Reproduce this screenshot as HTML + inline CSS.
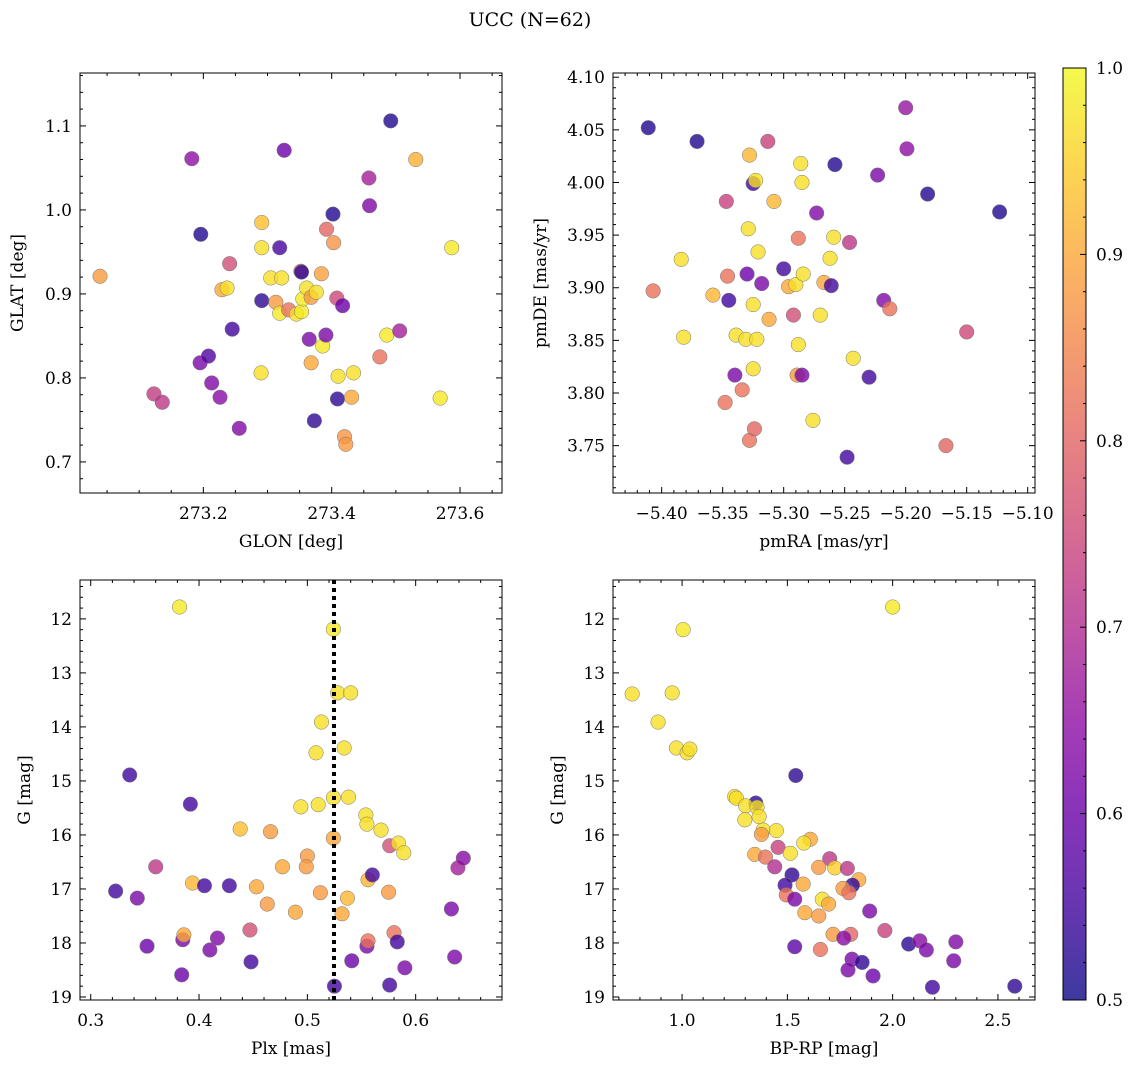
<!DOCTYPE html>
<html><head><meta charset="utf-8"><style>
body{margin:0;background:#fff;}
svg{display:block;font-family:"DejaVu Serif","Liberation Serif",serif;}
</style></head><body>
<svg id="c" width="1136" height="1068" xmlns="http://www.w3.org/2000/svg">
<defs>
<linearGradient id="cbg" x1="0" y1="1" x2="0" y2="0">
<stop offset="0" stop-color="#0d0887"/><stop offset="0.1" stop-color="#41049d"/><stop offset="0.2" stop-color="#6a00a8"/><stop offset="0.3" stop-color="#8f0da4"/><stop offset="0.4" stop-color="#b12a90"/><stop offset="0.5" stop-color="#cc4778"/><stop offset="0.6" stop-color="#e16462"/><stop offset="0.7" stop-color="#f2844b"/><stop offset="0.8" stop-color="#fca636"/><stop offset="0.9" stop-color="#fcce25"/><stop offset="1" stop-color="#f0f921"/>
</linearGradient>
</defs>
<text x="530" y="26" text-anchor="middle" font-size="19">UCC (N=62)</text>
</svg>
<script>
// Panel 1: GLON vs GLAT
const glon=[273.039,273.182,273.196,273.123,273.136,273.195,273.208,273.213,273.226,273.229,273.237,273.241,273.245,273.256,273.291,273.291,273.291,273.290,273.305,273.313,273.319,273.322,273.319,273.326,273.333,273.345,273.352,273.353,273.353,273.355,273.361,273.368,273.376,273.365,273.368,273.373,273.386,273.384,273.391,273.392,273.402,273.403,273.408,273.410,273.409,273.417,273.420,273.422,273.431,273.434,273.458,273.459,273.475,273.486,273.492,273.506,273.531,273.569,273.587];
const glat=[0.921,1.061,0.971,0.781,0.771,0.818,0.826,0.794,0.777,0.905,0.907,0.936,0.858,0.740,0.985,0.955,0.892,0.806,0.919,0.890,0.955,0.919,0.877,1.071,0.881,0.876,0.927,0.926,0.879,0.894,0.907,0.896,0.902,0.846,0.818,0.749,0.838,0.924,0.851,0.977,0.995,0.961,0.895,0.802,0.775,0.886,0.730,0.721,0.777,0.806,1.038,1.005,0.825,0.851,1.106,0.856,1.060,0.776,0.955];
const probA=[0.88,0.65,0.52,0.73,0.72,0.62,0.57,0.63,0.64,0.9,0.97,0.76,0.55,0.63,0.93,0.97,0.53,0.97,0.97,0.88,0.56,0.97,0.98,0.6,0.82,0.97,0.8,0.53,0.98,0.98,0.97,0.88,0.97,0.62,0.9,0.53,0.98,0.89,0.62,0.8,0.52,0.87,0.75,0.97,0.53,0.6,0.87,0.88,0.9,0.97,0.68,0.63,0.82,0.98,0.52,0.68,0.91,0.98,0.98];
// Panel 2: pmRA vs pmDE
const pmra=[-5.411,-5.407,-5.382,-5.371,-5.384,-5.358,-5.347,-5.346,-5.345,-5.348,-5.340,-5.339,-5.334,-5.331,-5.330,-5.328,-5.329,-5.328,-5.325,-5.325,-5.324,-5.325,-5.323,-5.322,-5.321,-5.318,-5.313,-5.312,-5.308,-5.300,-5.296,-5.292,-5.290,-5.289,-5.288,-5.288,-5.286,-5.285,-5.285,-5.284,-5.276,-5.273,-5.270,-5.267,-5.262,-5.261,-5.259,-5.258,-5.248,-5.246,-5.243,-5.230,-5.223,-5.218,-5.213,-5.200,-5.199,-5.182,-5.167,-5.150,-5.123];
const pmde=[4.052,3.897,3.853,4.039,3.927,3.893,3.982,3.911,3.888,3.791,3.817,3.855,3.803,3.851,3.913,4.026,3.956,3.755,3.884,3.823,3.766,3.999,4.002,3.851,3.934,3.904,4.039,3.870,3.982,3.918,3.901,3.874,3.903,3.817,3.947,3.846,4.018,3.817,4.000,3.913,3.774,3.971,3.874,3.905,3.928,3.902,3.948,4.017,3.739,3.943,3.833,3.815,4.007,3.888,3.880,4.071,4.032,3.989,3.750,3.858,3.972];
const probB=[0.52,0.82,0.97,0.52,0.97,0.92,0.74,0.82,0.55,0.82,0.62,0.97,0.82,0.97,0.6,0.92,0.97,0.82,0.97,0.97,0.8,0.55,0.97,0.97,0.97,0.62,0.74,0.9,0.92,0.55,0.9,0.76,0.97,0.88,0.82,0.97,0.97,0.62,0.97,0.97,0.97,0.63,0.97,0.9,0.97,0.55,0.97,0.52,0.55,0.72,0.97,0.55,0.62,0.63,0.82,0.66,0.65,0.52,0.8,0.75,0.52];
// Panel 3: Plx vs G
const plx=[0.323,0.336,0.343,0.352,0.360,0.382,0.384,0.385,0.386,0.392,0.394,0.405,0.410,0.417,0.428,0.438,0.447,0.448,0.453,0.463,0.466,0.477,0.489,0.494,0.500,0.499,0.508,0.510,0.512,0.513,0.524,0.524,0.524,0.525,0.528,0.532,0.534,0.537,0.538,0.540,0.541,0.554,0.555,0.556,0.555,0.556,0.560,0.568,0.575,0.576,0.580,0.583,0.576,0.584,0.589,0.590,0.633,0.636,0.639,0.644];
const gmagC=[17.04,14.89,17.17,18.06,16.59,11.78,18.59,17.94,17.85,15.43,16.89,16.94,18.13,17.91,16.94,15.89,17.76,18.35,16.96,17.28,15.94,16.59,17.43,15.48,16.39,16.59,14.48,15.44,17.07,13.91,12.19,15.31,16.06,18.80,13.37,17.46,14.39,17.17,15.30,13.37,18.33,15.63,15.80,16.83,18.06,17.96,16.74,15.91,17.06,16.20,17.81,17.98,18.78,16.15,16.33,18.46,17.37,18.26,16.61,16.43];
const probC=[0.55,0.55,0.62,0.6,0.72,0.98,0.6,0.62,0.9,0.55,0.92,0.55,0.62,0.63,0.55,0.93,0.76,0.55,0.9,0.88,0.88,0.9,0.9,0.97,0.88,0.88,0.97,0.97,0.88,0.97,0.98,0.97,0.9,0.55,0.97,0.9,0.97,0.92,0.97,0.97,0.6,0.97,0.97,0.92,0.62,0.82,0.55,0.97,0.88,0.76,0.82,0.55,0.55,0.97,0.97,0.62,0.62,0.62,0.68,0.64];
const vline=[0.5246];
// Panel 4: BP-RP vs G
const bprp=[0.763,0.886,0.953,1.005,2.000,0.973,1.024,1.037,1.540,1.250,1.258,1.350,1.302,1.356,1.298,1.366,1.385,1.377,1.448,1.609,1.578,1.456,1.514,1.345,1.396,1.701,1.440,1.649,1.725,1.785,1.839,1.522,1.575,1.809,1.489,1.764,1.792,1.495,1.535,1.666,1.696,1.583,1.649,1.891,1.963,1.717,1.801,1.768,1.535,1.657,2.076,2.129,2.160,1.807,1.855,1.788,1.907,2.189,2.300,2.290,2.580];
const gmagD=[13.39,13.91,13.37,12.20,11.78,14.39,14.48,14.41,14.90,15.29,15.32,15.41,15.46,15.49,15.72,15.66,15.91,15.99,15.92,16.08,16.15,16.23,16.34,16.36,16.41,16.44,16.59,16.60,16.61,16.62,16.83,16.74,16.91,16.93,16.93,16.99,17.07,17.11,17.19,17.19,17.28,17.44,17.50,17.41,17.77,17.84,17.84,17.91,18.07,18.12,18.02,17.96,18.13,18.30,18.36,18.50,18.61,18.82,17.98,18.33,18.80];
const probD=[0.97,0.97,0.97,0.98,0.98,0.97,0.97,0.97,0.53,0.97,0.97,0.53,0.97,0.97,0.97,0.97,0.97,0.88,0.97,0.9,0.97,0.74,0.97,0.9,0.82,0.72,0.7,0.88,0.95,0.72,0.9,0.53,0.9,0.53,0.55,0.88,0.82,0.82,0.62,0.97,0.9,0.9,0.88,0.62,0.74,0.88,0.8,0.64,0.58,0.82,0.53,0.64,0.62,0.62,0.53,0.62,0.6,0.55,0.63,0.62,0.53];
const cbTicks=[0.5,0.6,0.7,0.8,0.9,1.0];

const NS="http://www.w3.org/2000/svg";
const svg=document.getElementById('c');
function mk(tag,attrs,parent){const e=document.createElementNS(NS,tag);for(const k in attrs)e.setAttribute(k,attrs[k]);(parent||svg).appendChild(e);return e;}
const stops=[[0,13,8,135],[0.1,65,4,157],[0.2,106,0,168],[0.3,143,13,164],[0.4,177,42,144],[0.5,204,71,120],[0.6,225,100,98],[0.7,242,132,75],[0.8,252,166,54],[0.9,252,206,37],[1,240,249,33]];
function plasma(p){let t=Math.max(0,Math.min(1,(p-0.5)/0.5));for(let i=0;i<stops.length-1;i++){const a=stops[i],b=stops[i+1];if(t<=b[0]){const f=(t-a[0])/(b[0]-a[0]);return `rgb(${Math.round(a[1]+f*(b[1]-a[1]))},${Math.round(a[2]+f*(b[2]-a[2]))},${Math.round(a[3]+f*(b[3]-a[3]))})`;}}return 'rgb(240,249,33)';}

function panel(o){
  const g=mk('g',{});
  
  
  const X=v=>o.x0+(v-o.xmin)/(o.xmax-o.xmin)*(o.x1-o.x0);
  const Y=o.inv?(v=>o.y0+(v-o.ymin)/(o.ymax-o.ymin)*(o.y1-o.y0)):(v=>o.y1-(v-o.ymin)/(o.ymax-o.ymin)*(o.y1-o.y0));
  const pts=mk('g',{},g);
  
  
  for(let i=0;i<o.xs.length;i++){
    const c=mk('circle',{cx:X(o.xs[i]),cy:Y(o.ys[i]),r:7.3,fill:plasma(o.ps[i]),'fill-opacity':0.8,stroke:'#777','stroke-width':0.5},pts);
    
    
  }
  if(o.vline!==undefined){
    const l=mk('line',{x1:X(o.vline),x2:X(o.vline),y1:o.y0,y2:o.y1,stroke:'#000','stroke-width':4,'stroke-dasharray':'4,4'},g);
    
    
  }
  const fr=mk('rect',{x:o.x0,y:o.y0,width:o.x1-o.x0,height:o.y1-o.y0,fill:'none',stroke:'#000','stroke-width':1},g);
  
  
  const eps=1e-9;
  for(let v=Math.ceil(o.xmin/o.xminor-eps)*o.xminor;v<=o.xmax+eps;v+=o.xminor){
    const isMaj=Math.abs(v/o.xmajor-Math.round(v/o.xmajor))<1e-6;const L=isMaj?6:3;const x=X(v);
    mk('line',{x1:x,x2:x,y1:o.y1,y2:o.y1-L,stroke:'#000'},g);mk('line',{x1:x,x2:x,y1:o.y0,y2:o.y0+L,stroke:'#000'},g);
  }
  for(let v=Math.ceil(o.ymin/o.yminor-eps)*o.yminor;v<=o.ymax+eps;v+=o.yminor){
    const isMaj=Math.abs(v/o.ymajor-Math.round(v/o.ymajor))<1e-6;const L=isMaj?6:3;const y=Y(v);
    mk('line',{x1:o.x0,x2:o.x0+L,y1:y,y2:y,stroke:'#000'},g);mk('line',{x1:o.x1,x2:o.x1-L,y1:y,y2:y,stroke:'#000'},g);
  }
  o.xticks.forEach(v=>{const t=mk('text',{x:X(v),y:o.y1+26,'text-anchor':'middle','font-size':17},g);t.textContent=o.xfmt(v);
    });
  o.yticks.forEach(v=>{const t=mk('text',{x:o.x0-8,y:Y(v)+6,'text-anchor':'end','font-size':17},g);t.textContent=o.yfmt(v);
    });
  const xl=mk('text',{x:(o.x0+o.x1)/2,y:o.y1+54,'text-anchor':'middle','font-size':17},g);xl.textContent=o.xlabel;
  
  const yx=o.ylx, yy=(o.y0+o.y1)/2;
  const yl=mk('text',{x:yx,y:yy,'text-anchor':'middle','font-size':17,transform:`rotate(-90 ${yx} ${yy})`},g);yl.textContent=o.ylabel;
  
}
const f1=v=>v.toFixed(1), f2=v=>v.toFixed(2), m2=v=>(v<0?'\u2212':'')+Math.abs(v).toFixed(2), f0=v=>v.toFixed(0);
panel({name:'glon-glat-panel',x0:80,x1:502,y0:73,y1:493,xmin:273.0078,xmax:273.6654,ymin:0.663,ymax:1.163,xs:glon,ys:glat,ps:probA,
 xmajor:0.2,xminor:0.05,ymajor:0.1,yminor:0.02,xticks:[273.2,273.4,273.6],yticks:[0.7,0.8,0.9,1.0,1.1],xfmt:f1,yfmt:f1,xlabel:'GLON [deg]',ylabel:'GLAT [deg]',ylx:23});
panel({name:'pm-panel',x0:613,x1:1035,y0:73,y1:493,xmin:-5.4399,xmax:-5.094,ymin:3.705,ymax:4.104,xs:pmra,ys:pmde,ps:probB,
 xmajor:0.05,xminor:0.01,ymajor:0.05,yminor:0.01,xticks:[-5.40,-5.35,-5.30,-5.25,-5.20,-5.15,-5.10],yticks:[3.75,3.80,3.85,3.90,3.95,4.00,4.05,4.10],xfmt:m2,yfmt:f2,xlabel:'pmRA [mas/yr]',ylabel:'pmDE [mas/yr]',ylx:546});
panel({name:'plx-g-panel',x0:80,x1:502,y0:580,y1:1000,xmin:0.2901,xmax:0.6797,ymin:11.28,ymax:19.056,inv:true,xs:plx,ys:gmagC,ps:probC,vline:vline[0],
 xmajor:0.1,xminor:0.02,ymajor:1,yminor:0.2,xticks:[0.3,0.4,0.5,0.6],yticks:[12,13,14,15,16,17,18,19],xfmt:f1,yfmt:f0,xlabel:'Plx [mas]',ylabel:'G [mag]',ylx:30});
panel({name:'color-g-panel',x0:613,x1:1035,y0:580,y1:1000,xmin:0.672,xmax:2.676,ymin:11.28,ymax:19.056,inv:true,xs:bprp,ys:gmagD,ps:probD,
 xmajor:0.5,xminor:0.1,ymajor:1,yminor:0.2,xticks:[1.0,1.5,2.0,2.5],yticks:[12,13,14,15,16,17,18,19],xfmt:f1,yfmt:f0,xlabel:'BP-RP [mag]',ylabel:'G [mag]',ylx:563});
// colorbar
const cb=mk('g',{});


const cbx=1063,cbw=23,cby0=68,cby1=1000;
mk('rect',{x:cbx,y:cby0,width:cbw,height:cby1-cby0,fill:'url(#cbg)','fill-opacity':0.8},cb);
mk('rect',{x:cbx,y:cby0,width:cbw,height:cby1-cby0,fill:'none',stroke:'#000'},cb);
const CY=v=>cby1-(v-0.5)/0.5*(cby1-cby0);
for(let k=0;k<=25;k++){const v=0.5+k*0.02;const maj=k%5===0;mk('line',{x1:cbx+cbw,x2:cbx+cbw-(maj?6:3),y1:CY(v),y2:CY(v),stroke:'#000'},cb);}
cbTicks.forEach(v=>{const t=mk('text',{x:cbx+cbw+10,y:CY(v)+6,'font-size':17},cb);t.textContent=v.toFixed(1);
 });
</script>
</body></html>
